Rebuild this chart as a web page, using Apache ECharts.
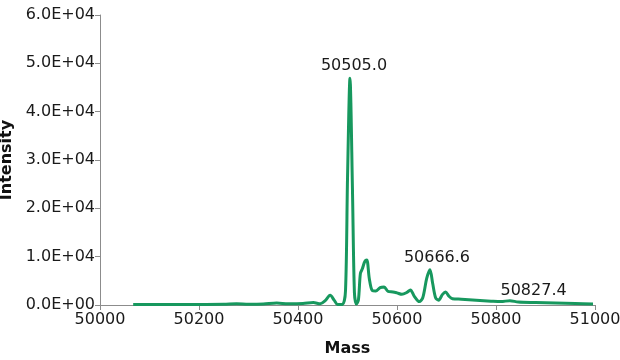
<!DOCTYPE html>
<html>
<head>
<meta charset="utf-8">
<script src="https://cdn.jsdelivr.net/npm/echarts@6/dist/echarts.min.js"></script>
<style>
html,body{margin:0;padding:0;background:#fff;}
#chart{width:620px;height:360px;}
</style>
</head>
<body>
<div id="chart"></div>
<script>
// Mass (Da) and intensity values
var massValues = [
  50067, 50100, 50150, 50200, 50250, 50276, 50300, 50330, 50357, 50380,
  50410, 50431, 50445, 50455, 50465, 50473, 50480, 50490, 50496, 50500,
  50505, 50510, 50514, 50518, 50522, 50526, 50530, 50535, 50539,
  50544, 50550, 50557, 50566, 50574, 50582, 50592, 50600, 50610, 50620,
  50627, 50635, 50645, 50652, 50660, 50666.6, 50672, 50678, 50684, 50692,
  50698, 50705, 50712, 50730, 50760, 50790, 50810, 50828, 50845, 50880,
  50920, 50960, 50996
];
var intensityValues = [
  100, 100, 100, 120, 150, 250, 150, 200, 400, 250,
  300, 500, 250, 900, 2000, 1000, 100, 150, 3000, 26000,
  46900, 24000, 2500, 200, 1000, 6500, 7500, 9000, 9300,
  5500, 3000, 2900, 3600, 3700, 2800, 2700, 2500, 2200, 2600,
  3100, 1800, 700, 1500, 5500, 7300, 4500, 1500, 1000, 2200,
  2700, 1800, 1300, 1200, 1000, 800, 700, 900, 600, 500,
  400, 300, 200
];
// Annotated peaks
var peakMasses = [50505.0, 50666.6, 50827.4];
var peakIntensities = [46900, 7300, 900];
var peakLabels = ['50505.0', '50666.6', '50827.4'];
// Axis tick labels
var xTickLabels = ['50000', '50200', '50400', '50600', '50800', '51000'];
var yTickLabels = ['0.0E+00', '1.0E+04', '2.0E+04', '3.0E+04', '4.0E+04', '5.0E+04', '6.0E+04'];

// label placement (style only)
var peakLabelOffsets = [[4, 0], [7, 0], [24, 2]];

var lineData = massValues.map(function (m, i) { return [m, intensityValues[i]]; });
var peakData = peakMasses.map(function (m, i) {
  return {value: [m, peakIntensities[i]], label: {offset: peakLabelOffsets[i]}};
});

var FONT = 'DejaVu Sans';
var chart = echarts.init(document.getElementById('chart'), null, {renderer: 'canvas'});
chart.setOption({
  animation: false,
  backgroundColor: '#ffffff',
  grid: {left: 100, right: 25, top: 15, bottom: 55, containLabel: false, outerBoundsMode: 'none'},
  xAxis: {
    type: 'value', min: 50000, max: 51000, interval: 200,
    name: 'Mass', nameLocation: 'middle', nameGap: 36,
    nameTextStyle: {fontFamily: FONT, fontSize: 16, fontWeight: 'bold', color: '#111'},
    axisLine: {lineStyle: {color: '#8c8c8c', width: 1}},
    axisTick: {show: true, length: 5, lineStyle: {color: '#8c8c8c'}},
    axisLabel: {
      fontFamily: FONT, fontSize: 16, color: '#1a1a1a', margin: 7,
      formatter: function (v) { return xTickLabels[Math.round((v - 50000) / 200)]; }
    },
    splitLine: {show: false}
  },
  yAxis: {
    type: 'value', min: 0, max: 60000, interval: 10000,
    name: 'Intensity', nameLocation: 'middle', nameGap: 78, nameRotate: 90,
    nameTextStyle: {fontFamily: FONT, fontSize: 16, fontWeight: 'bold', color: '#111'},
    axisLine: {show: true, lineStyle: {color: '#8c8c8c', width: 1}},
    axisTick: {show: true, length: 5, lineStyle: {color: '#8c8c8c'}},
    axisLabel: {
      fontFamily: FONT, fontSize: 16, color: '#1a1a1a', margin: 5,
      formatter: function (v) { return yTickLabels[Math.round(v / 10000)]; }
    },
    splitLine: {show: false}
  },
  series: [
    {
      type: 'line',
      data: lineData,
      smooth: 0.3,
      symbol: 'none',
      lineStyle: {color: '#17985e', width: 3},
      z: 2
    },
    {
      type: 'scatter',
      data: peakData,
      symbolSize: 0,
      itemStyle: {color: '#000000', opacity: 1},
      emphasis: {disabled: true},
      label: {
        show: true, position: 'top', distance: 4,
        fontFamily: FONT, fontSize: 16, color: '#1a1a1a', opacity: 1,
        formatter: function (p) { return peakLabels[p.dataIndex]; }
      },
      z: 3
    }
  ]
});
</script>
</body>
</html>
